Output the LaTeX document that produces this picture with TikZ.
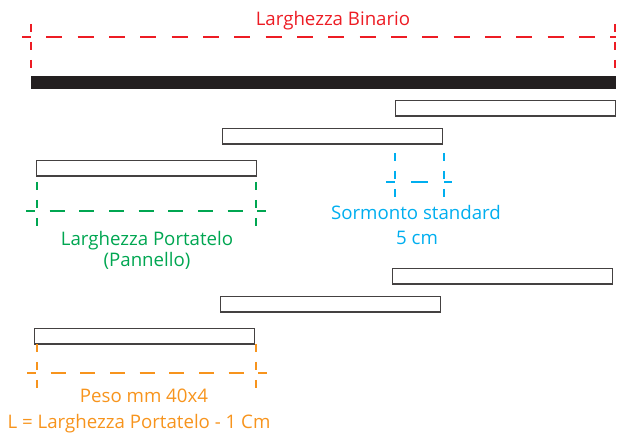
\documentclass[tikz,border=0pt]{standalone}
\usepackage{fontspec}
\setmainfont{Open Sans}
\usepackage{tikz}

\definecolor{rosso}{RGB}{237,28,36}
\definecolor{verde}{RGB}{0,166,81}
\definecolor{azzurro}{RGB}{0,174,239}
\definecolor{arancio}{RGB}{247,148,29}
\definecolor{nero}{RGB}{35,31,32}

\begin{document}
\begin{tikzpicture}[x=0.75pt,y=-0.75pt,
    pannello/.style={draw=nero!85,line width=0.9pt,fill=white,inner sep=0pt,
        minimum width=165pt,minimum height=11.5pt,anchor=north west},
    quota/.style={line width=1pt,dash pattern=on 12pt off 11.5pt,dash phase=5.25pt},
    tacca/.style={line width=1pt,dash pattern=on 6pt off 7.5pt},
    testo/.style={font=\fontsize{14}{17}\selectfont,anchor=base,inner sep=0pt}]
    \useasboundingbox (0,0) rectangle (622,434);

    % Binario
    \node[fill=nero,inner sep=0pt,minimum width=438.75pt,minimum height=9.75pt,
        anchor=north west] (binario) at (31,76) {};

    % Pannelli (portateli)
    \foreach \nome/\x/\y in {a1/395/100, a2/222/128, a3/36/160,
                             b1/392/268, b2/220/296, b3/34/328}
    {
        \node[pannello] (\nome) at (\x,\y) {};
    }

    % Larghezza binario
    \coordinate (rA1) at (31,24);  \coordinate (rA2) at (31,68);
    \coordinate (rB1) at (615,24); \coordinate (rB2) at (615,68);
    \coordinate (rS) at (22,37);   \coordinate (rD) at (616,37);
    \draw[tacca,draw=rosso] (rA1) -- (rA2);
    \draw[tacca,draw=rosso] (rB1) -- (rB2);
    \draw[quota,draw=rosso] (rS) -- (rD);
    \node[testo,text=rosso] (tBinario) at (333,26) {Larghezza Binario};

    % Larghezza portatelo
    \coordinate (gA1) at (37,182);  \coordinate (gA2) at (37,226);
    \coordinate (gB1) at (256,182); \coordinate (gB2) at (256,226);
    \coordinate (gS) at (26,211);   \coordinate (gD) at (266,211);
    \draw[tacca,draw=verde] (gA1) -- (gA2);
    \draw[tacca,draw=verde] (gB1) -- (gB2);
    \draw[quota,draw=verde,dash pattern=on 11.25pt off 11pt,dash phase=4.5pt] (gS) -- (gD);
    \node[testo,text=verde] (tPortatelo) at (147,246) {Larghezza Portatelo};
    \node[testo,text=verde] (tPannello) at (147,267) {(Pannello)};

    % Sormonto
    \coordinate (sA1) at (395,153); \coordinate (sA2) at (395,197);
    \coordinate (sB1) at (444,153); \coordinate (sB2) at (444,197);
    \coordinate (sS) at (386,182);  \coordinate (sD) at (452,182);
    \draw[tacca,draw=azzurro] (sA1) -- (sA2);
    \draw[tacca,draw=azzurro] (sB1) -- (sB2);
    \draw[quota,draw=azzurro,dash pattern=on 12.75pt off 12pt,dash phase=6pt] (sS) -- (sD);
    \node[testo,text=azzurro] (tSormonto) at (416,220) {Sormonto standard};
    \node[testo,text=azzurro] (tCm) at (417,245) {5 cm};

    % Peso
    \coordinate (oA1) at (37,344);  \coordinate (oA2) at (37,390);
    \coordinate (oB1) at (256,344); \coordinate (oB2) at (256,390);
    \coordinate (oS) at (27,373);   \coordinate (oD) at (267,373);
    \draw[tacca,draw=arancio] (oA1) -- (oA2);
    \draw[tacca,draw=arancio] (oB1) -- (oB2);
    \draw[quota,draw=arancio,dash pattern=on 11.25pt off 11pt,dash phase=4.5pt] (oS) -- (oD);
    \node[testo,text=arancio] (tPeso) at (144,403) {Peso mm 40x4};
    \node[testo,text=arancio] (tFormula) at (139,429) {L = Larghezza Portatelo - 1 Cm};
\end{tikzpicture}
\end{document}
